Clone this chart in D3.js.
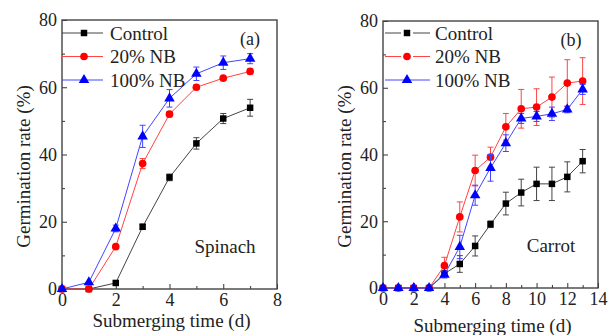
<!DOCTYPE html>
<html>
<head>
<meta charset="utf-8">
<script src="https://cdn.jsdelivr.net/npm/d3@7"></script>
<style>
  body { margin: 0; background: #fff; }
  svg { display: block; }
  svg text { font-family: "Liberation Serif", "Times New Roman", Times, "DejaVu Serif", serif; }
</style>
</head>
<body>
<svg width="608" height="335"></svg>
<script>
// Spinach (a)
const spinachDays = [0, 1, 2, 3, 4, 5, 6, 7];
const spinachControl = [0, 0, 1.8, 18.5, 33.2, 43.3, 50.7, 53.9];
const spinachControlErr = [0, 0, 0.5, 0.8, 1.0, 1.7, 1.5, 2.5];
const spinach20 = [0, 0, 12.6, 37.3, 52, 60, 62.7, 64.7];
const spinach20Err = [0, 0, 0.6, 1.5, 0.8, 0.7, 0.6, 0.8];
const spinach100 = [0, 2, 18, 45.4, 56.7, 64, 67.3, 68.5];
const spinach100Err = [0, 0.5, 1, 3.3, 2.6, 2, 2, 1.5];

// Carrot (b)
const carrotDays = [0, 1, 2, 3, 4, 5, 6, 7, 8, 9, 10, 11, 12, 13];
const carrotControl = [0, 0, 0, 0, 4.3, 7.2, 12.6, 19.1, 25.3, 28.6, 31.2, 31.2, 33.3, 38];
const carrotControlErr = [0, 0, 0, 0, 0.8, 2.5, 3, 1, 3.4, 4, 5, 5, 4.5, 3.5];
const carrot20 = [0, 0, 0, 0, 6.7, 21.3, 35.2, 39.2, 48.3, 53.7, 54.2, 57.2, 61.4, 62];
const carrot20Err = [0, 0, 0, 0, 2.5, 4.5, 4.6, 3, 4, 5.8, 5.5, 6, 7, 7];
const carrot100 = [0, 0, 0, 0, 4, 12.3, 27.8, 36, 43.4, 50.8, 51.4, 52.2, 53.5, 59.5];
const carrot100Err = [0, 0, 0, 0, 1, 3.5, 3, 4, 2.5, 1.5, 1.5, 2, 1, 1.5];

const seriesNames = ['Control', '20% NB', '100% NB'];
const yTicks = [0, 20, 40, 60, 80];

const serif = '"Liberation Serif", "Times New Roman", Times, "DejaVu Serif", serif';

const styles = [
  { color: '#000', line: '#444', shape: d3.symbolSquare, size: 42 },
  { color: '#f00', line: '#f44', shape: d3.symbolCircle, size: 46 },
  { color: '#00f', line: '#44f', shape: d3.symbolTriangle, size: 48 }
];

const svg = d3.select('svg');

const drawPanel = p => {
  const x = d3.scaleLinear().domain(p.xDomain).range([p.left, p.right]);
  const y = d3.scaleLinear().domain([0, 80]).range([p.bottom, p.top]);
  const g = svg.append('g');

  // ticks (inward), left and bottom only
  const yAxis = d3.axisLeft(y).tickValues(yTicks).tickSize(-5).tickPadding(5).tickFormat(d3.format('d'));
  const yMinor = d3.axisLeft(y).tickValues(d3.range(10, 80, 20)).tickSize(-3).tickFormat('');
  const xAxis = d3.axisBottom(x).tickValues(p.xTicks).tickSize(-5).tickPadding(4).tickFormat(d3.format('d'));
  const xMinor = d3.axisBottom(x).tickValues(p.xMinor).tickSize(-3).tickFormat('');

  [[yAxis, `translate(${p.left},0)`], [yMinor, `translate(${p.left},0)`],
   [xAxis, `translate(0,${p.bottom})`], [xMinor, `translate(0,${p.bottom})`]].forEach(([ax, tr]) => {
    const a = g.append('g').attr('transform', tr).call(ax)
      .attr('font-family', serif).attr('font-size', 18);
    a.select('.domain').remove();
    a.selectAll('line').attr('stroke', '#333');
    a.selectAll('text').attr('fill', '#222');
  });

  g.append('rect')
    .attr('x', p.left).attr('y', p.top)
    .attr('width', p.right - p.left).attr('height', p.bottom - p.top)
    .attr('fill', 'none').attr('stroke', '#444').attr('stroke-width', 1.4);

  const line = d3.line().x(d => x(d.x)).y(d => y(d.y));

  p.series.forEach((s, i) => {
    const st = styles[i];
    const pts = p.days.map((d, k) => ({ x: d, y: s.values[k], e: s.errs[k] }));
    g.append('path').datum(pts)
      .attr('d', line).attr('fill', 'none')
      .attr('stroke', st.line).attr('stroke-width', 1);

    const eb = g.append('g').attr('stroke', st.line).attr('stroke-width', 1);
    pts.filter(d => d.e > 0.6).forEach(d => {
      eb.append('line').attr('x1', x(d.x)).attr('x2', x(d.x)).attr('y1', y(d.y - d.e)).attr('y2', y(d.y + d.e));
      eb.append('line').attr('x1', x(d.x) - 3).attr('x2', x(d.x) + 3).attr('y1', y(d.y - d.e)).attr('y2', y(d.y - d.e));
      eb.append('line').attr('x1', x(d.x) - 3).attr('x2', x(d.x) + 3).attr('y1', y(d.y + d.e)).attr('y2', y(d.y + d.e));
    });

    g.selectAll(null).data(pts).enter().append('path')
      .attr('d', d3.symbol().type(st.shape).size(st.size))
      .attr('transform', d => `translate(${x(d.x)},${y(d.y)})`)
      .attr('fill', st.color);
  });

  // legend
  seriesNames.forEach((name, i) => {
    const st = styles[i];
    const ly = p.legendY + i * 23.5;
    const lg = g.append('g');
    if (p.legendGap && i < 2) {
      lg.append('line').attr('x1', p.legendX0).attr('x2', p.legendMarker - 6).attr('y1', ly).attr('y2', ly)
        .attr('stroke', st.line);
      lg.append('line').attr('x1', p.legendMarker + 6).attr('x2', p.legendX1).attr('y1', ly).attr('y2', ly)
        .attr('stroke', st.line);
    } else {
      lg.append('line').attr('x1', p.legendX0).attr('x2', p.legendX1).attr('y1', ly).attr('y2', ly)
        .attr('stroke', st.line);
    }
    lg.append('path').attr('d', d3.symbol().type(st.shape).size(st.size)())
      .attr('transform', `translate(${p.legendMarker},${ly})`).attr('fill', st.color);
    lg.append('text').attr('x', p.legendText).attr('y', ly + 6.5)
      .attr('font-family', serif).attr('font-size', 19).attr('fill', '#222').text(name);
  });

  g.append('text').attr('x', p.tagX).attr('y', p.tagY).attr('text-anchor', 'middle')
    .attr('font-family', serif).attr('font-size', 18).attr('fill', '#222').text(p.tag);
  g.append('text').attr('x', p.nameX).attr('y', p.nameY).attr('text-anchor', 'middle')
    .attr('font-family', serif).attr('font-size', 19).attr('fill', '#222').text(p.name);

  g.append('text')
    .attr('transform', `translate(${p.yTitleX},${(p.top + p.bottom) / 2 + 12}) rotate(-90)`)
    .attr('text-anchor', 'middle').attr('font-family', serif).attr('font-size', 19).attr('fill', '#222')
    .text('Germination rate (%)');
  g.append('text').attr('x', (p.left + p.right) / 2 + 2).attr('y', p.xTitleY)
    .attr('text-anchor', 'middle').attr('font-family', serif).attr('font-size', 19).attr('fill', '#222')
    .text('Submerging time (d)');
};

drawPanel({
  left: 62, right: 277, top: 20, bottom: 289,
  xDomain: [0, 8], xTicks: [0, 2, 4, 6, 8], xMinor: [1, 3, 5, 7],
  days: spinachDays,
  series: [
    { values: spinachControl, errs: spinachControlErr },
    { values: spinach20, errs: spinach20Err },
    { values: spinach100, errs: spinach100Err }
  ],
  legendY: 33, legendX0: 62, legendX1: 103, legendMarker: 84, legendText: 110, legendGap: false,
  tag: '(a)', tagX: 250, tagY: 45,
  name: 'Spinach', nameX: 225, nameY: 253,
  yTitleX: 30, xTitleY: 327
});

drawPanel({
  left: 383, right: 598, top: 21, bottom: 288,
  xDomain: [0, 14], xTicks: [0, 2, 4, 6, 8, 10, 12, 14], xMinor: [1, 3, 5, 7, 9, 11, 13],
  days: carrotDays,
  series: [
    { values: carrotControl, errs: carrotControlErr },
    { values: carrot20, errs: carrot20Err },
    { values: carrot100, errs: carrot100Err }
  ],
  legendY: 33, legendX0: 385, legendX1: 430, legendMarker: 407, legendText: 435, legendGap: true,
  tag: '(b)', tagX: 571, tagY: 46,
  name: 'Carrot', nameX: 551, nameY: 252,
  yTitleX: 351, xTitleY: 332
});
</script>
</body>
</html>
